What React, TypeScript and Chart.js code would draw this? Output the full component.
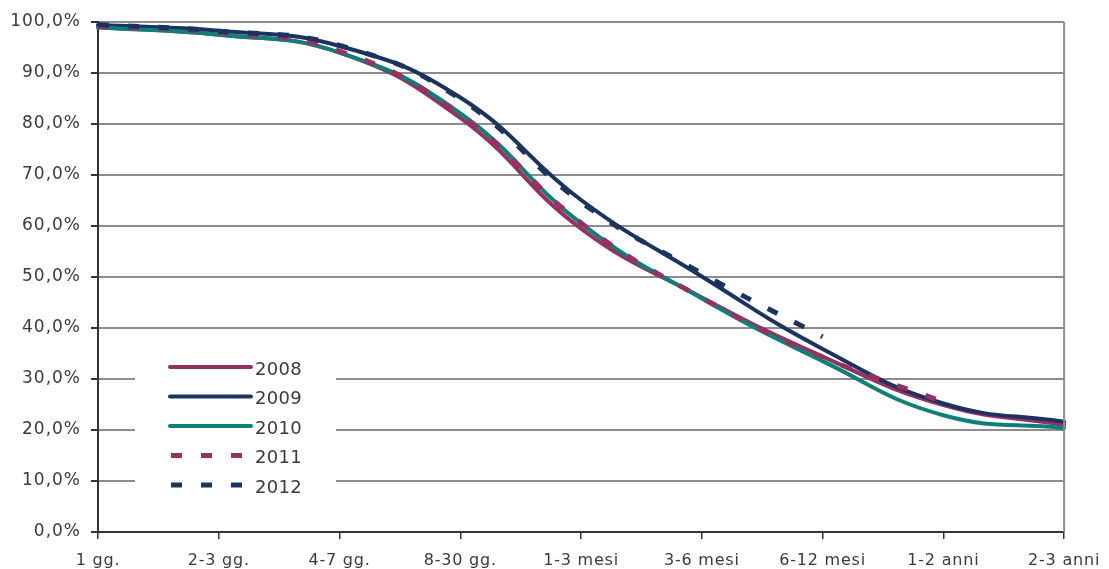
import React, { useEffect, useRef } from "react";
import { Chart, registerables } from "chart.js";

Chart.register(...registerables);

const categories = ["1 gg.", "2-3 gg.", "4-7 gg.", "8-30 gg.", "1-3 mesi", "3-6 mesi", "6-12 mesi", "1-2 anni", "2-3 anni"];
const yTicks = [0, 10, 20, 30, 40, 50, 60, 70, 80, 90, 100];

const s2008 = [99.0, 97.5, 94.0, 81.2, 59.5, 46.0, 34.4, 24.9, 21.0];
const s2009 = [99.4, 98.3, 95.3, 85.2, 65.1, 50.1, 35.9, 25.2, 21.6];
const s2010 = [98.9, 97.5, 94.0, 82.1, 60.5, 45.8, 33.5, 22.9, 20.4];
const s2011 = [99.1, 98.0, 94.3, 81.8, 60.6, 45.9, 34.3, 25.5, null];
const s2012 = [99.5, 98.2, 95.4, 84.9, 64.7, 50.7, 38.3, null, null];

const seriesNames = ["2008", "2009", "2010", "2011", "2012"];
const MAROON = "#963162";
const NAVY = "#1b3361";
const TEAL = "#0f7f79";
const TEXT = "#3a3a3a";
const FONT = "'DejaVu Sans', Verdana, sans-serif";
const DASH = [11, 19];

const legendStyles = [
  { color: MAROON, dash: [] as number[] },
  { color: NAVY, dash: [] as number[] },
  { color: TEAL, dash: [] as number[] },
  { color: MAROON, dash: DASH },
  { color: NAVY, dash: DASH },
];

const insideLegend = {
  id: "insideLegend",
  beforeDatasetsDraw(chart: any) {
    const { ctx, chartArea: a } = chart;
    ctx.save();
    ctx.fillStyle = "#ffffff";
    ctx.fillRect(a.left + 37, a.top + 311, 201, 172);
    seriesNames.forEach((name, i) => {
      const y = a.top + 345 + i * 29.5;
      const st = legendStyles[i];
      ctx.beginPath();
      ctx.strokeStyle = st.color;
      ctx.lineWidth = 4;
      if (st.dash.length) {
        ctx.setLineDash(st.dash);
        ctx.lineCap = "butt";
        ctx.lineWidth = 5;
        ctx.moveTo(a.left + 73, y);
        ctx.lineTo(a.left + 155, y);
      } else {
        ctx.setLineDash([]);
        ctx.lineCap = "round";
        ctx.moveTo(a.left + 72, y);
        ctx.lineTo(a.left + 153, y);
      }
      ctx.stroke();
      ctx.setLineDash([]);
      ctx.fillStyle = TEXT;
      ctx.font = "18px " + FONT;
      (ctx as any).letterSpacing = "0.3px";
      ctx.textAlign = "left";
      ctx.textBaseline = "middle";
      ctx.fillText(name, a.left + 157, y + 3);
      (ctx as any).letterSpacing = "0px";
    });
    ctx.restore();
  },
  afterDraw(chart: any) {
    const { ctx, chartArea: a } = chart;
    ctx.save();
    ctx.strokeStyle = "#8c8c8c";
    ctx.lineWidth = 2;
    ctx.beginPath();
    ctx.moveTo(a.right, a.top);
    ctx.lineTo(a.right, a.bottom);
    ctx.stroke();
    ctx.restore();
  },
};

function spaced(scale: any, spacing: string) {
  if (scale.__spaced) return;
  scale.__spaced = true;
  const orig = scale.drawLabels;
  scale.drawLabels = function (area: any) {
    const ctx = this.ctx;
    ctx.save();
    ctx.letterSpacing = spacing;
    orig.call(this, area);
    ctx.restore();
  };
}

export default function App() {
  const ref = useRef<HTMLCanvasElement | null>(null);

  useEffect(() => {
    document.body.style.margin = "0";
    if (!ref.current) return;
    Chart.defaults.font.family = FONT;
    const mk = (label: string, data: (number | null)[], color: string, dash: number[], order: number) => ({
      label,
      data,
      borderColor: color,
      backgroundColor: color,
      borderWidth: dash.length ? 5 : 4,
      borderDash: dash,
      borderCapStyle: dash.length ? "butt" : "round",
      pointRadius: 0,
      tension: 0.45,
      fill: false,
      spanGaps: false,
      order,
    });
    const chart = new Chart(ref.current, {
      type: "line",
      data: {
        labels: categories,
        datasets: [
          mk("2008", s2008, MAROON, [], 5),
          mk("2009", s2009, NAVY, [], 4),
          mk("2010", s2010, TEAL, [], 3),
          mk("2011", s2011, MAROON, DASH, 2),
          mk("2012", s2012, NAVY, DASH, 1),
        ] as any,
      },
      options: {
        animation: false,
        responsive: false,
        layout: { padding: { top: 22, right: 43, left: 0, bottom: 0 } },
        plugins: { legend: { display: false }, tooltip: { enabled: false } },
        scales: {
          x: {
            offset: false,
            afterFit: (s: any) => {
              s.height = 37;
              spaced(s, "0.8px");
            },
            grid: { drawOnChartArea: false, drawTicks: true, tickLength: 7, tickColor: "#333333", lineWidth: 1.5 },
            border: { color: "#333333", width: 2 },
            ticks: { color: TEXT, font: { size: 16, family: FONT }, padding: 12, maxRotation: 0, autoSkip: false },
          },
          y: {
            min: 0,
            max: 100,
            afterFit: (s: any) => {
              s.width = 98;
              spaced(s, "1px");
            },
            afterBuildTicks: (s: any) => {
              s.ticks = yTicks.map((v) => ({ value: v }));
            },
            grid: { color: "#8c8c8c", lineWidth: 2, tickLength: 7, tickColor: "#333333" },
            border: { color: "#333333", width: 2 },
            ticks: {
              color: TEXT,
              font: { size: 17, family: FONT },
              padding: 10,
              callback: (v: any) => Number(v).toFixed(1).replace(".", ",") + "%",
            },
          },
        },
      },
      plugins: [insideLegend],
    });
    return () => chart.destroy();
  }, []);

  return (
    <div style={{ width: 1109, height: 569 }}>
      <canvas ref={ref} width={1109} height={569} style={{ display: "block" }} />
    </div>
  );
}
